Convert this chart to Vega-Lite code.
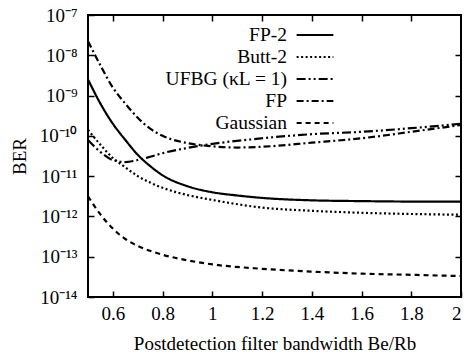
{
  "$schema": "https://vega.github.io/schema/vega-lite/v6.json",
  "width": 373,
  "height": 282,
  "autosize": "none",
  "padding": {"left": 88, "top": 15, "right": 7, "bottom": 57},
  "background": "white",
  "config": {
    "font": "Liberation Serif",
    "view": {"stroke": "black", "strokeWidth": 2},
    "axis": {
      "domain": false,
      "grid": false,
      "tickColor": "black",
      "tickWidth": 1.5,
      "tickSize": -6,
      "labelFont": "Liberation Serif",
      "labelFontSize": 19,
      "labelColor": "black",
      "titleFont": "Liberation Serif",
      "titleFontSize": 19,
      "titleFontWeight": "normal",
      "titleColor": "black"
    },
    "legend": {
      "labelFont": "Liberation Serif",
      "labelFontSize": 19.5
    }
  },
  "data": {
    "values": [
      {"series": "FP-2", "x": 0.5, "ber": 2.51e-9},
      {"series": "FP-2", "x": 0.55, "ber": 6.31e-10},
      {"series": "FP-2", "x": 0.6, "ber": 2.0e-10},
      {"series": "FP-2", "x": 0.65, "ber": 7.94e-11},
      {"series": "FP-2", "x": 0.7, "ber": 3.39e-11},
      {"series": "FP-2", "x": 0.75, "ber": 1.78e-11},
      {"series": "FP-2", "x": 0.8, "ber": 1.05e-11},
      {"series": "FP-2", "x": 0.9, "ber": 5.62e-12},
      {"series": "FP-2", "x": 1.0, "ber": 3.98e-12},
      {"series": "FP-2", "x": 1.1, "ber": 3.31e-12},
      {"series": "FP-2", "x": 1.2, "ber": 2.88e-12},
      {"series": "FP-2", "x": 1.4, "ber": 2.51e-12},
      {"series": "FP-2", "x": 1.6, "ber": 2.40e-12},
      {"series": "FP-2", "x": 1.8, "ber": 2.34e-12},
      {"series": "FP-2", "x": 2.0, "ber": 2.34e-12},
      {"series": "Butt-2", "x": 0.5, "ber": 1.41e-10},
      {"series": "Butt-2", "x": 0.55, "ber": 6.03e-11},
      {"series": "Butt-2", "x": 0.6, "ber": 2.82e-11},
      {"series": "Butt-2", "x": 0.65, "ber": 1.66e-11},
      {"series": "Butt-2", "x": 0.7, "ber": 1.0e-11},
      {"series": "Butt-2", "x": 0.75, "ber": 6.92e-12},
      {"series": "Butt-2", "x": 0.8, "ber": 5.13e-12},
      {"series": "Butt-2", "x": 0.9, "ber": 3.39e-12},
      {"series": "Butt-2", "x": 1.0, "ber": 2.57e-12},
      {"series": "Butt-2", "x": 1.2, "ber": 1.66e-12},
      {"series": "Butt-2", "x": 1.4, "ber": 1.38e-12},
      {"series": "Butt-2", "x": 1.6, "ber": 1.23e-12},
      {"series": "Butt-2", "x": 1.8, "ber": 1.15e-12},
      {"series": "Butt-2", "x": 2.0, "ber": 1.10e-12},
      {"series": "UFBG (κL = 1)", "x": 0.5, "ber": 7.94e-11},
      {"series": "UFBG (κL = 1)", "x": 0.55, "ber": 3.98e-11},
      {"series": "UFBG (κL = 1)", "x": 0.6, "ber": 2.51e-11},
      {"series": "UFBG (κL = 1)", "x": 0.65, "ber": 2.24e-11},
      {"series": "UFBG (κL = 1)", "x": 0.7, "ber": 2.51e-11},
      {"series": "UFBG (κL = 1)", "x": 0.75, "ber": 3.02e-11},
      {"series": "UFBG (κL = 1)", "x": 0.8, "ber": 3.72e-11},
      {"series": "UFBG (κL = 1)", "x": 0.9, "ber": 5.01e-11},
      {"series": "UFBG (κL = 1)", "x": 1.0, "ber": 6.31e-11},
      {"series": "UFBG (κL = 1)", "x": 1.2, "ber": 8.71e-11},
      {"series": "UFBG (κL = 1)", "x": 1.4, "ber": 1.10e-10},
      {"series": "UFBG (κL = 1)", "x": 1.6, "ber": 1.26e-10},
      {"series": "UFBG (κL = 1)", "x": 1.8, "ber": 1.55e-10},
      {"series": "UFBG (κL = 1)", "x": 2.0, "ber": 2.0e-10},
      {"series": "FP", "x": 0.5, "ber": 2.24e-8},
      {"series": "FP", "x": 0.55, "ber": 5.62e-9},
      {"series": "FP", "x": 0.6, "ber": 1.58e-9},
      {"series": "FP", "x": 0.65, "ber": 6.31e-10},
      {"series": "FP", "x": 0.7, "ber": 2.82e-10},
      {"series": "FP", "x": 0.75, "ber": 1.51e-10},
      {"series": "FP", "x": 0.8, "ber": 1.0e-10},
      {"series": "FP", "x": 0.9, "ber": 6.61e-11},
      {"series": "FP", "x": 1.0, "ber": 5.50e-11},
      {"series": "FP", "x": 1.1, "ber": 5.13e-11},
      {"series": "FP", "x": 1.2, "ber": 5.37e-11},
      {"series": "FP", "x": 1.4, "ber": 6.76e-11},
      {"series": "FP", "x": 1.6, "ber": 8.71e-11},
      {"series": "FP", "x": 1.8, "ber": 1.26e-10},
      {"series": "FP", "x": 2.0, "ber": 1.86e-10},
      {"series": "Gaussian", "x": 0.5, "ber": 3.16e-12},
      {"series": "Gaussian", "x": 0.55, "ber": 1.12e-12},
      {"series": "Gaussian", "x": 0.6, "ber": 5.01e-13},
      {"series": "Gaussian", "x": 0.65, "ber": 2.75e-13},
      {"series": "Gaussian", "x": 0.7, "ber": 1.86e-13},
      {"series": "Gaussian", "x": 0.8, "ber": 1.12e-13},
      {"series": "Gaussian", "x": 0.9, "ber": 8.13e-14},
      {"series": "Gaussian", "x": 1.0, "ber": 6.46e-14},
      {"series": "Gaussian", "x": 1.2, "ber": 5.01e-14},
      {"series": "Gaussian", "x": 1.4, "ber": 4.27e-14},
      {"series": "Gaussian", "x": 1.6, "ber": 3.80e-14},
      {"series": "Gaussian", "x": 1.8, "ber": 3.55e-14},
      {"series": "Gaussian", "x": 2.0, "ber": 3.31e-14}
    ]
  },
  "resolve": {"axis": {"x": "independent", "y": "independent"}},
  "layer": [
    {
      "mark": {"type": "line", "interpolate": "monotone", "strokeWidth": 2.2, "color": "black", "strokeCap": "butt", "clip": true},
      "encoding": {
        "x": {
          "field": "x", "type": "quantitative",
          "scale": {"domain": [0.5, 2], "nice": false, "zero": false},
          "axis": {"orient": "bottom", "values": [0.6, 0.8, 1, 1.2, 1.4, 1.6, 1.8, 2], "format": "~g", "labelFont": "Liberation Serif", "labelPadding": 13, "title": "Postdetection filter bandwidth Be/Rb", "titlePadding": 11}
        },
        "y": {
          "field": "ber", "type": "quantitative",
          "scale": {"type": "log", "domain": [1e-14, 1e-7], "nice": false},
          "axis": {
            "orient": "left",
            "values": [1e-7, 1e-8, 1e-9, 1e-10, 1e-11, 1e-12, 1e-13, 1e-14],
            "labelFont": "Liberation Serif",
            "labelPadding": 17,
            "labelExpr": "'10⁻' + (round(-log(datum.value)/LN10) >= 10 ? '¹' : '') + ['⁰','¹','²','³','⁴','⁵','⁶','⁷','⁸','⁹'][round(-log(datum.value)/LN10) % 10]",
            "title": "BER",
            "titlePadding": 10
          }
        },
        "strokeDash": {
          "field": "series", "type": "nominal",
          "scale": {
            "domain": ["FP-2", "Butt-2", "UFBG (κL = 1)", "FP", "Gaussian"],
            "range": [[1, 0], [2, 2.5], [9, 3, 2, 3, 2, 3], [7, 3, 2, 3], [5, 4]]
          },
          "legend": {
            "orient": "none",
            "legendX": 215,
            "legendY": 8,
            "title": null,
            "padding": 0,
            "symbolType": "M-1.75,0H1.75",
            "symbolSize": 441,
            "symbolStrokeWidth": 2.2,
            "symbolStrokeColor": "black",
            "symbolOpacity": 1,
            "labelFont": "Liberation Serif",
            "labelFontSize": 19.5,
            "labelColor": "black",
            "labelAlign": "right",
            "labelOffset": -40,
            "rowPadding": 0
          }
        }
      }
    },
    {
      "mark": {"type": "point", "size": 0, "opacity": 0},
      "encoding": {
        "x": {
          "field": "x", "type": "quantitative",
          "axis": {"orient": "top", "values": [0.6, 0.8, 1, 1.2, 1.4, 1.6, 1.8], "labels": false, "title": null}
        },
        "y": {
          "field": "ber", "type": "quantitative",
          "axis": {"orient": "right", "values": [1e-8, 1e-9, 1e-10, 1e-11, 1e-12, 1e-13], "labels": false, "title": null}
        }
      }
    }
  ]
}
